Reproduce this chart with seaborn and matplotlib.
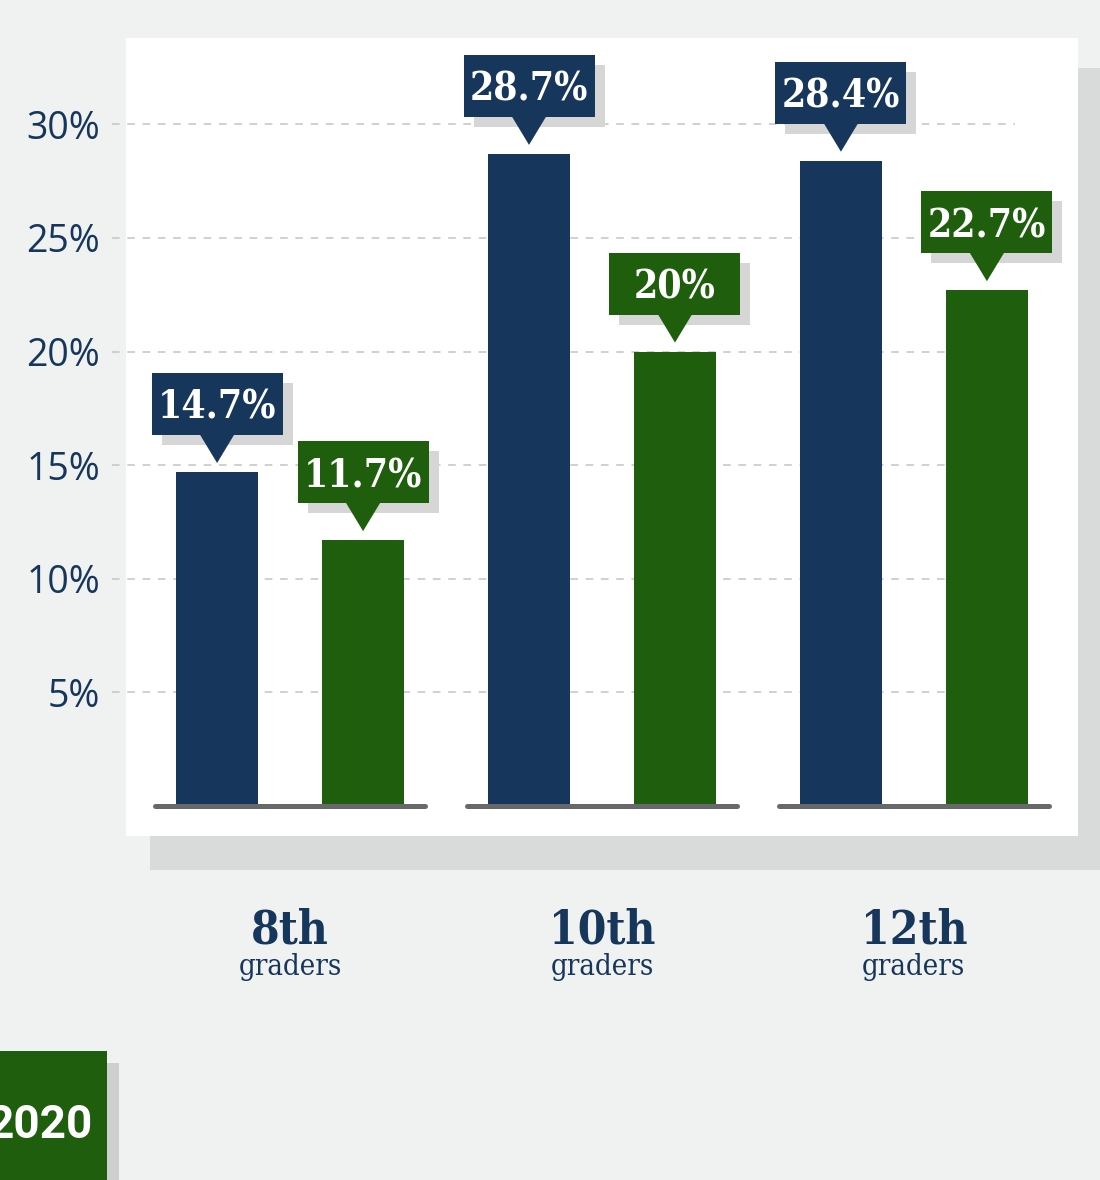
import matplotlib
matplotlib.use("Agg")
import matplotlib.pyplot as plt
import matplotlib.patches as mpatches
import matplotlib.transforms as mtransforms
import pandas as pd
import seaborn as sns

# data
grades = ["8th", "10th", "12th"]
years = ["2019", "2020"]
vals_2019 = [14.7, 28.7, 28.4]
vals_2020 = [11.7, 20.0, 22.7]
yticks = [5, 10, 15, 20, 25, 30]
ytick_labels = ["5%", "10%", "15%", "20%", "25%", "30%"]
sub_label = "graders"
badge_text = "2020"

NAVY = "#16365b"
GREEN = "#1f5e0c"
BG = "#f0f1f1"
PANEL_SHADOW = "#d9dada"
LABEL_SHADOW = "#d6d6d6"
BASELINE = "#68686b"
GRID = "#c4c4c4"
SLAB = ["DejaVu Serif"]

df = pd.DataFrame({
    "grade": grades * 2,
    "year": [years[0]] * len(grades) + [years[1]] * len(grades),
    "pct": vals_2019 + vals_2020,
})

W, H = 1100, 1180
fig = plt.figure(figsize=(W / 100, H / 100), dpi=100)
fig.patch.set_facecolor(BG)


def fx(px):
    return px / W


def fy(py):
    return 1 - py / H


# white panel = the axes, with a flat shadow behind it
ax_l, ax_t, ax_r, ax_b = 126, 38, 1078, 836
ax = fig.add_axes([fx(ax_l), fy(ax_b), (ax_r - ax_l) / W, (ax_b - ax_t) / H])
ax.set_facecolor("white")
fig.add_artist(mpatches.Rectangle((fx(150), fy(870)), 1000 / W, (870 - 68) / H,
                                  transform=fig.transFigure, color=PANEL_SHADOW,
                                  lw=0, zorder=-1))

sns.barplot(data=df, x="grade", y="pct", hue="year", order=grades, hue_order=years,
            palette={years[0]: NAVY, years[1]: GREEN}, saturation=1,
            width=0.936, gap=0.44, legend=False, ax=ax, zorder=2)

xlim = (-0.526, 2.526)
ylim = (-1.32, 33.8)
px_x = (xlim[1] - xlim[0]) / (ax_r - ax_l)
px_y = (ylim[1] - ylim[0]) / (ax_b - ax_t)

for s in ax.spines.values():
    s.set_visible(False)
ax.set_xlabel("")
ax.set_ylabel("")
ax.set_xticks([])
ax.set_yticks(yticks, ytick_labels)
ax.tick_params(axis="y", length=0, pad=18.5, labelsize=27, labelcolor=NAVY)
for t in ax.get_yticklabels():
    t.set_family(["Open Sans", "DejaVu Sans"])

# dashed guides, starting a little left of the panel
ax.hlines(yticks, xlim[0] - 14 * px_x, xlim[0] + (1015 - ax_l) * px_x,
          colors=GRID, linestyles=(0, (5, 5)), lw=1.1, zorder=0, clip_on=False)

# grey floor under each pair of bars
for i in range(len(grades)):
    ax.plot([i - 0.433, i + 0.433], [0, 0], color=BASELINE, lw=3.6,
            solid_capstyle="round", zorder=3)

# callout labels
box_w, box_h = 131 * px_x, 62 * px_y
tri_w, tri_h, tip_gap = 35 * px_x, 28 * px_y, 9 * px_y
sh_dx, sh_dy = 10 * px_x, 10 * px_y
for cont, col in zip(ax.containers, [NAVY, GREEN]):
    for bar in cont:
        xc = bar.get_x() + bar.get_width() / 2
        v = bar.get_height()
        tip = v + tip_gap
        bot = tip + tri_h
        ax.add_patch(mpatches.Rectangle((xc - box_w / 2 + sh_dx, bot - sh_dy), box_w, box_h,
                                        color=LABEL_SHADOW, lw=0, zorder=4))
        ax.add_patch(mpatches.Rectangle((xc - box_w / 2, bot), box_w, box_h,
                                        color=col, lw=0, zorder=5))
        ax.add_patch(mpatches.Polygon([(xc - tri_w / 2, bot + px_y), (xc + tri_w / 2, bot + px_y),
                                       (xc, tip)], closed=True, color=col, lw=0, zorder=5))
        ax.text(xc, bot + box_h / 2, f"{v:g}%", ha="center", va="center_baseline",
                color="white", fontsize=28, fontweight="bold", family=SLAB,
                fontstretch="condensed", zorder=6)

ax.set_xlim(*xlim)
ax.set_ylim(*ylim)

# category labels under the panel
trans = mtransforms.blended_transform_factory(ax.transData, fig.transFigure)
for i, g in enumerate(grades):
    ax.text(i, fy(944), g, transform=trans, ha="center", va="baseline", color=NAVY,
            fontsize=33, fontweight="bold", family=SLAB, fontstretch="condensed",
            clip_on=False)
    ax.text(i, fy(975), sub_label, transform=trans, ha="center", va="baseline",
            color=NAVY, fontsize=21, family=SLAB, fontstretch="condensed", clip_on=False)

# year badge, cut by the left edge as in the original
fig.add_artist(mpatches.Rectangle((fx(12), 0), 107 / W, fy(1063), transform=fig.transFigure,
                                  color="#cfcfcf", lw=0, zorder=1))
fig.add_artist(mpatches.Rectangle((fx(-10), 0), 117 / W, fy(1051), transform=fig.transFigure,
                                  color=GREEN, lw=0, zorder=2))
fig.text(fx(93), fy(1138), badge_text, ha="right", va="baseline", color="white",
         fontsize=33, fontweight="bold", family=["Roboto", "DejaVu Sans"], zorder=3)

fig.savefig("out.png", dpi=100)
